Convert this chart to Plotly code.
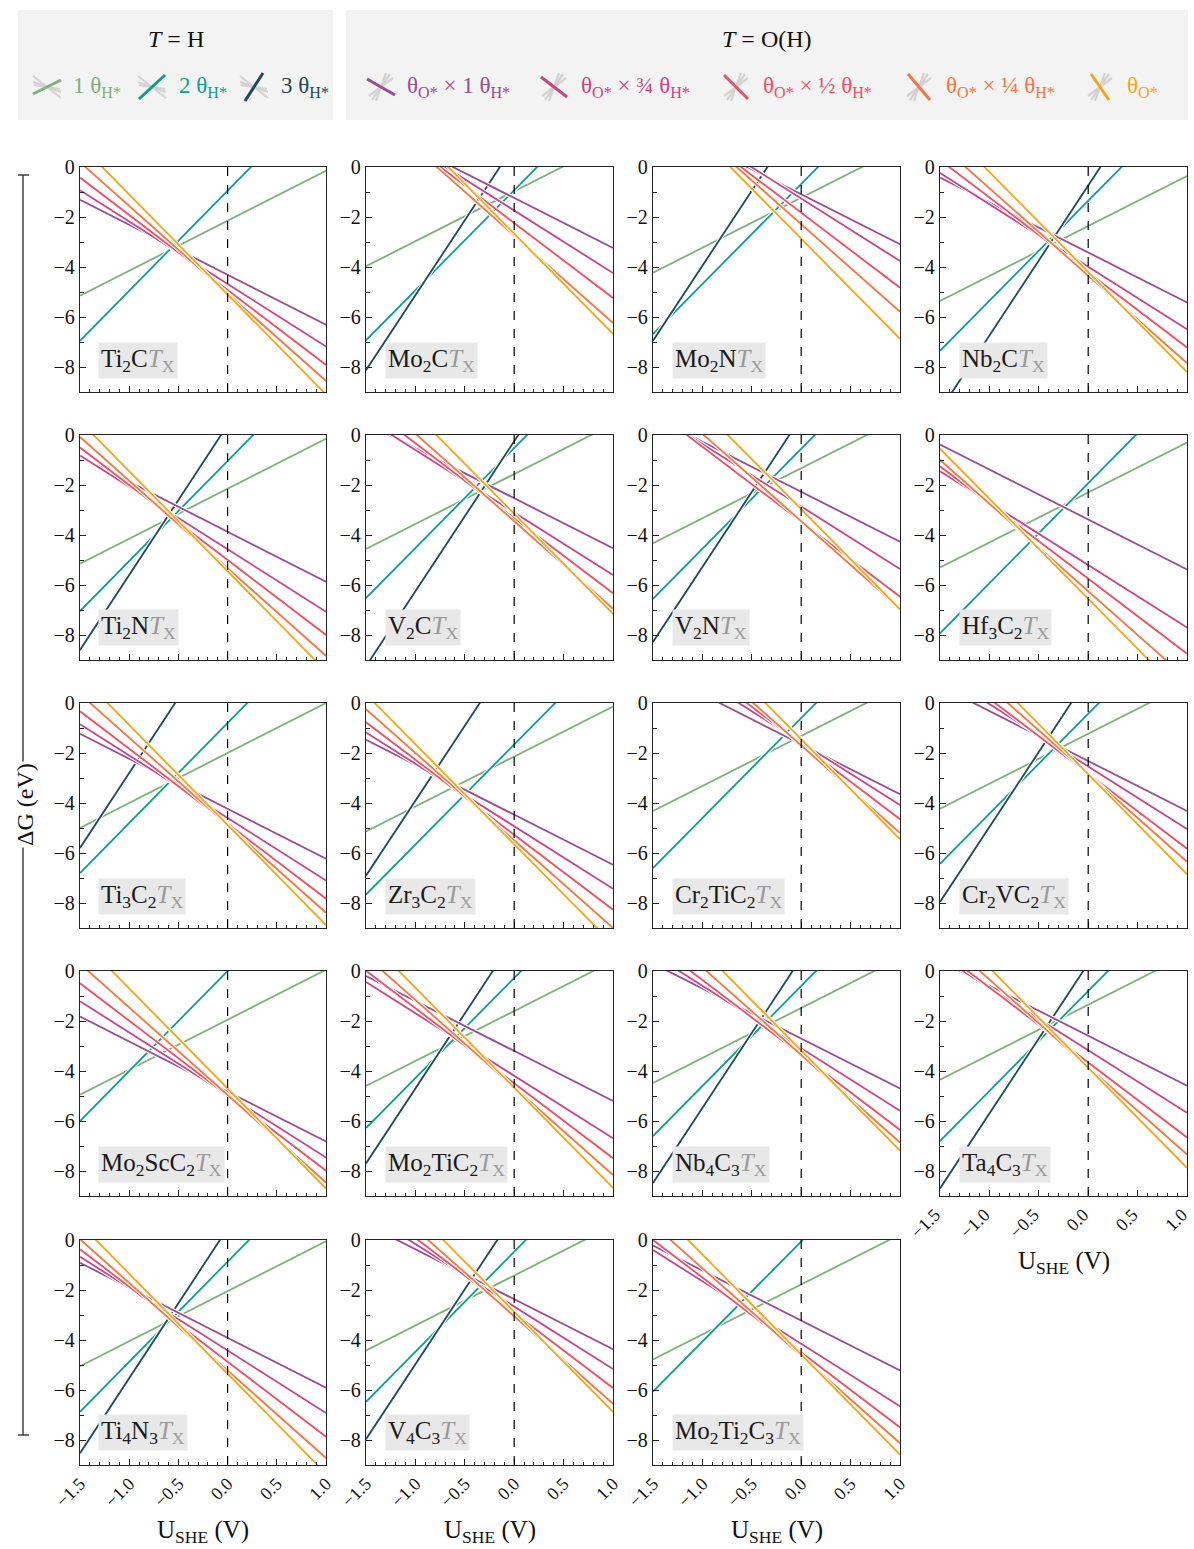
import plotly.graph_objects as go

W, H = 1194, 1549
SERIF = "Liberation Serif"

# MXene formulas, in panel order (row by row, four per row)
materials = [
    "Ti<sub>2</sub>C", "Mo<sub>2</sub>C", "Mo<sub>2</sub>N", "Nb<sub>2</sub>C",
    "Ti<sub>2</sub>N", "V<sub>2</sub>C", "V<sub>2</sub>N", "Hf<sub>3</sub>C<sub>2</sub>",
    "Ti<sub>3</sub>C<sub>2</sub>", "Zr<sub>3</sub>C<sub>2</sub>", "Cr<sub>2</sub>TiC<sub>2</sub>", "Cr<sub>2</sub>VC<sub>2</sub>",
    "Mo<sub>2</sub>ScC<sub>2</sub>", "Mo<sub>2</sub>TiC<sub>2</sub>", "Nb<sub>4</sub>C<sub>3</sub>", "Ta<sub>4</sub>C<sub>3</sub>",
    "Ti<sub>4</sub>N<sub>3</sub>", "V<sub>4</sub>C<sub>3</sub>", "Mo<sub>2</sub>Ti<sub>2</sub>C<sub>3</sub>",
]

# Reaction free energies at U_SHE = 0 V (eV); None = termination not computed
dG0_H1 = [-2.15, -0.97, -1.23, -2.36, -2.15, -1.56, -1.33, -2.30, -2.00, -2.14,
          -1.32, -1.23, -1.95, -1.60, -1.48, -1.35, -2.05, -1.42, -1.78]
dG0_H2 = [-0.95, -0.93, -0.68, -1.35, -1.04, -0.52, -0.55, -1.93, -0.80, -1.66,
          -0.60, -0.43, 0.00, -0.28, -0.60, -0.80, -0.87, -0.47, -0.06]
dG0_H3 = [None, 0.87, 2.05, -0.74, 0.40, -0.25, 0.72, None, 3.20, 2.09,
          None, 1.04, None, 1.30, 0.52, 0.30, 0.47, 1.03, None]
dG0_O_H1 = [-4.31, -1.24, -1.09, -3.42, -3.87, -2.53, -2.27, -3.38, -4.23, -4.47,
            -1.65, -2.32, -4.82, -3.20, -2.70, -2.59, -3.91, -2.37, -3.22]
dG0_O_H34 = [-4.68, -1.74, -1.26, -3.99, -4.57, -3.10, -2.86, -5.20, -4.60, -4.93,
             -1.58, -2.54, -4.96, -4.19, -3.09, -3.17, -4.42, -2.66, -4.15]
dG0_O_H12 = [-4.92, -2.24, -1.83, -4.22, -5.00, -3.33, -3.47, -5.75, -4.83, -5.27,
             -1.65, -2.83, -4.99, -4.49, -3.36, -3.66, -4.87, -2.92, -4.50]
dG0_O_H14 = [-5.06, -2.74, -2.29, -4.35, -5.33, -3.45, -3.45, -6.25, -4.89, -5.50,
             -1.70, -2.85, -4.96, -4.66, -3.36, -3.84, -5.22, -3.05, -4.63]
dG0_O = [-5.10, -2.67, -2.87, -4.20, -5.45, -3.15, -2.97, -6.55, -4.88, -5.65,
         -1.45, -2.85, -4.70, -4.67, -3.18, -3.87, -5.35, -2.87, -4.58]

# Electrons transferred per formula unit (slope of dG vs U_SHE)
n_electrons = [2, 4, 6, -2, -2.5, -3, -3.5, -4]

series_values = [dG0_H1, dG0_H2, dG0_H3, dG0_O_H1, dG0_O_H34, dG0_O_H12, dG0_O_H14, dG0_O]
series_colors = ["#7DB07A", "#0E9E8C", "#1D4A56", "#9A4B95", "#C94386", "#EF4F63", "#F8763F", "#F5A516"]

U_range = [-1.5, 1.0]
dG_range = [-9, 0]

# panel boxes in pixels
col_px = [(80, 326), (366, 613), (653, 900), (940, 1187)]
row_px = [(167, 392), (435, 660), (703, 928), (971, 1196), (1240, 1465)]
xlabel_panels = {15, 16, 17, 18}


def px(x):
    return x / W


def py(y):
    return 1 - y / H


fig = go.Figure()
layout = {}
annotations = []
shapes = []

for i, name in enumerate(materials):
    r, c = divmod(i, 4)
    n = i + 1
    sfx = "" if n == 1 else str(n)
    xa, ya = "x" + sfx, "y" + sfx
    x0, x1 = col_px[c]
    y0, y1 = row_px[r]

    for vals, slope, color in zip(series_values, n_electrons, series_colors):
        g0 = vals[i]
        if g0 is None:
            continue
        us = list(U_range)
        gs = [g0 + slope * u for u in us]
        fig.add_trace(go.Scatter(x=us, y=gs, mode="lines", xaxis=xa, yaxis=ya,
                                 line=dict(color="white", width=4), hoverinfo="skip",
                                 showlegend=False))
        fig.add_trace(go.Scatter(x=us, y=gs, mode="lines", xaxis=xa, yaxis=ya,
                                 line=dict(color=color, width=1.8),
                                 showlegend=False))

    show_x = i in xlabel_panels
    layout["xaxis" + sfx] = dict(
        domain=[px(x0), px(x1)], anchor=ya, range=U_range, automargin=False,
        showline=True, linecolor="#222", linewidth=1.3, mirror=True,
        ticks="inside", ticklen=6, tickwidth=1, tickcolor="#222",
        tick0=-1.5, dtick=0.5, tickformat=".1f",
        minor=dict(ticks="inside", dtick=0.1, ticklen=3, tickcolor="#222"),
        showticklabels=show_x, tickangle=-45, ticklabeloverflow="allow",
        ticklabelshift=-5 if c == 3 else 0,
        tickfont=dict(family=SERIF, size=18, color="#111"),
        showgrid=False, zeroline=False,
    )
    layout["yaxis" + sfx] = dict(
        domain=[py(y1), py(y0)], anchor=xa, range=dG_range, automargin=False,
        showline=True, linecolor="#222", linewidth=1.3, mirror=True,
        ticks="inside", ticklen=6, tickwidth=1, tickcolor="#222",
        tick0=0, dtick=2, ticklabeloverflow="allow",
        minor=dict(ticks="inside", dtick=1, ticklen=4, tickcolor="#222"),
        tickfont=dict(family=SERIF, size=20, color="#111"),
        showgrid=False, zeroline=False,
    )

    # U_SHE = 0 reference line
    shapes.append(dict(type="line", xref=xa, yref=ya + " domain", x0=0, x1=0, y0=0, y1=1,
                       line=dict(color="black", width=1.2, dash="dash"), layer="above"))

    annotations.append(dict(
        xref=xa + " domain", yref=ya + " domain", x=0.075, y=0.06,
        xanchor="left", yanchor="bottom", showarrow=False,
        text=name + "<span style='color:#9a9a9a'><i>T</i><sub>X</sub></span>",
        font=dict(family=SERIF, size=25, color="#1a1a1a"),
        bgcolor="#e8e8e8", borderpad=2,
    ))

    if show_x:
        annotations.append(dict(
            xref="paper", yref="paper", x=px((x0 + x1) / 2), y=py(y1 + 66),
            xanchor="center", yanchor="middle", showarrow=False,
            text="U<sub>SHE</sub> (V)", font=dict(family=SERIF, size=25, color="#111"),
        ))

# shared y label with bracket
shapes.append(dict(type="line", xref="paper", yref="paper", x0=px(23), x1=px(23),
                   y0=py(175), y1=py(1435), line=dict(color="#222", width=1.3)))
for yy in (175, 1435):
    shapes.append(dict(type="line", xref="paper", yref="paper", x0=px(18), x1=px(29),
                       y0=py(yy), y1=py(yy), line=dict(color="#222", width=1.3)))
annotations.append(dict(xref="paper", yref="paper", x=px(25), y=py(805), textangle=-90,
                        xanchor="center", yanchor="middle",
                        showarrow=False, text="ΔG (eV)", bgcolor="white",
                        font=dict(family=SERIF, size=24, color="#111")))

# legend panels
shapes.append(dict(type="rect", xref="paper", yref="paper", x0=px(18), x1=px(333),
                   y0=py(120), y1=py(10), fillcolor="#f3f3f3", line=dict(width=0), layer="below"))
shapes.append(dict(type="rect", xref="paper", yref="paper", x0=px(346), x1=px(1188),
                   y0=py(120), y1=py(10), fillcolor="#f3f3f3", line=dict(width=0), layer="below"))
annotations.append(dict(xref="paper", yref="paper", x=px(176), y=py(39), showarrow=False,
                        xanchor="center", yanchor="middle",
                        text="<i>T</i> = H", font=dict(family=SERIF, size=24, color="#111")))
annotations.append(dict(xref="paper", yref="paper", x=px(767), y=py(39), showarrow=False,
                        xanchor="center", yanchor="middle",
                        text="<i>T</i> = O(H)", font=dict(family=SERIF, size=24, color="#111")))

legend_labels = ["1 θ<sub>H*</sub>", "2 θ<sub>H*</sub>", "3 θ<sub>H*</sub>",
                 "θ<sub>O*</sub> × 1 θ<sub>H*</sub>", "θ<sub>O*</sub> × ¾ θ<sub>H*</sub>",
                 "θ<sub>O*</sub> × ½ θ<sub>H*</sub>", "θ<sub>O*</sub> × ¼ θ<sub>H*</sub>",
                 "θ<sub>O*</sub>"]
icon_cx = [47, 152, 254, 381, 554, 736, 919, 1100]
text_x = [71, 177, 279, 405, 579, 761, 944, 1125]
# icon line half-extents (dx, dy) for the coloured stroke
icon_stroke = [(14, -7), (13, -12), (9, -14), (14, 8), (13, 10), (12, 12), (11, 13), (9, 13)]
LEG_Y = 87


def seg(x_a, y_a, x_b, y_b, color, width):
    shapes.append(dict(type="line", xref="paper", yref="paper",
                       x0=px(x_a), y0=py(y_a), x1=px(x_b), y1=py(y_b),
                       line=dict(color=color, width=width)))


for k, (label, color) in enumerate(zip(legend_labels, series_colors)):
    cx, cy = icon_cx[k], LEG_Y
    if k < 3:
        fans = [(14, 11), (14, 5), (13, 2)]
    else:
        fans = [(12, -9), (9, -13), (5, -14)]
    for fx, fy in fans:
        seg(cx - fx, cy - fy, cx + fx, cy + fy, "#d2d2d2", 2.2)
    dx, dy = icon_stroke[k]
    seg(cx - dx, cy - dy, cx + dx, cy + dy, color, 3)
    annotations.append(dict(xref="paper", yref="paper", x=px(text_x[k]), y=py(LEG_Y),
                            xanchor="left", yanchor="middle", showarrow=False, text=label,
                            font=dict(family=SERIF, size=23, color=color)))

fig.update_layout(
    width=W, height=H, margin=dict(l=0, r=0, t=0, b=0, autoexpand=False),
    paper_bgcolor="white", plot_bgcolor="white", showlegend=False,
    annotations=annotations, shapes=shapes, **layout,
)

fig.write_html("out.html")
